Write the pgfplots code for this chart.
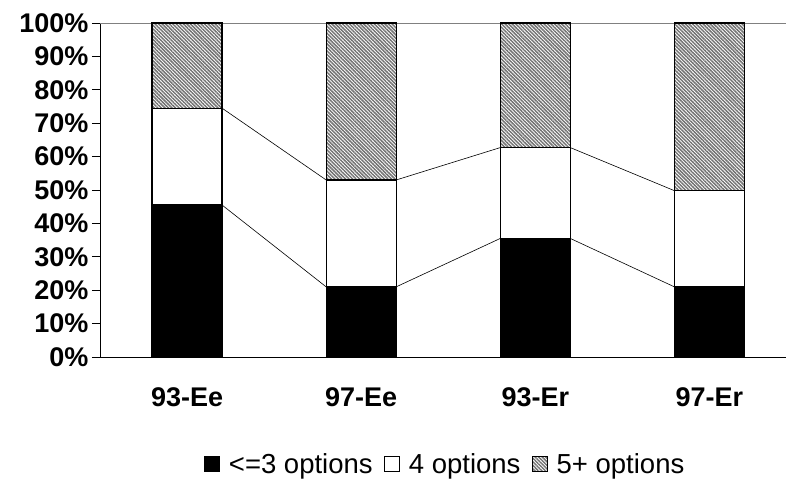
\documentclass[border=0pt]{standalone}
\usepackage{pgfplots}
\pgfplotsset{compat=1.18}
\usepackage{fontspec}
\setmainfont{Liberation Sans}
\usetikzlibrary{patterns.meta}
\pgfplotsset{sqlegend/.style={legend image code/.code={\draw[##1] (0pt,-7.5pt) rectangle (15pt,7.5pt);}}}

\begin{document}
\begin{tikzpicture}
\path[use as bounding box] (-100pt,-127pt) rectangle (686pt,357pt);
\begin{axis}[
  at={(0,0)}, anchor=south west,
  scale only axis, width=686pt, height=334pt,
  xmin=-0.5, xmax=3.44, ymin=0, ymax=100,
  axis x line=bottom, axis y line=left,
  axis line style={-, black, line width=0.8pt},
  tick align=outside,
  ytick={0,10,20,30,40,50,60,70,80,90,100},
  yticklabels={0\%,10\%,20\%,30\%,40\%,50\%,60\%,70\%,80\%,90\%,100\%},
  xtick={0,1,2,3},
  xticklabels={93-Ee,97-Ee,93-Er,97-Er},
  major x tick style={draw=none},
  extra x ticks={-0.5,0.5,1.5,2.5},
  extra x tick labels={},
  extra x tick style={major tick length=8pt, major tick style={black, line width=0.8pt}},
  major tick length=8pt,
  every tick/.style={black, line width=0.8pt},
  ticklabel style={font=\bfseries\fontsize{27}{31}\selectfont},
  xticklabel style={yshift=-19pt},
  clip=false,
  reverse legend,
  legend columns=3,
  legend style={draw=none, at={(0.503,-0.32)}, anchor=center,
    font=\fontsize{27.5}{32}\selectfont,
    /tikz/every odd column/.append style={column sep=7pt},
    /tikz/every even column/.append style={column sep=9pt}},
]
\addplot[gray, line width=0.8pt, forget plot] coordinates {(-0.5,100) (3.44,100)};

% 5+ options (top segment; drawn as full bar)
\addplot[ybar, bar width=0.402, bar shift=0pt, draw=black, line width=1.2pt,
  pattern={Lines[angle=-45,distance=2.5pt,line width=1.5pt]}, pattern color=black!55,
  sqlegend]
  coordinates {(0,100) (1,100) (2,100) (3,100)};
\addlegendentry{5+ options}
% 4 options (cumulative top)
\addplot[ybar, bar width=0.402, bar shift=0pt, draw=black, line width=1.2pt, fill=white,
  sqlegend]
  coordinates {(0,74.5) (1,53) (2,62.7) (3,49.8)};
\addlegendentry{4 options}
% <=3 options
\addplot[ybar, bar width=0.402, bar shift=0pt, draw=black, line width=1.2pt, fill=black,
  sqlegend]
  coordinates {(0,45.5) (1,21) (2,35.5) (3,21)};
\addlegendentry{<=3 options}

% series lines
\addplot[black, line width=0.6pt, forget plot] coordinates {(0.201,45.5) (0.799,21)};
\addplot[black, line width=0.6pt, forget plot] coordinates {(1.201,21) (1.799,35.5)};
\addplot[black, line width=0.6pt, forget plot] coordinates {(2.201,35.5) (2.799,21)};
\addplot[black, line width=0.6pt, forget plot] coordinates {(0.201,74.5) (0.799,53)};
\addplot[black, line width=0.6pt, forget plot] coordinates {(1.201,53) (1.799,62.7)};
\addplot[black, line width=0.6pt, forget plot] coordinates {(2.201,62.7) (2.799,49.8)};
\end{axis}
\end{tikzpicture}
\end{document}
